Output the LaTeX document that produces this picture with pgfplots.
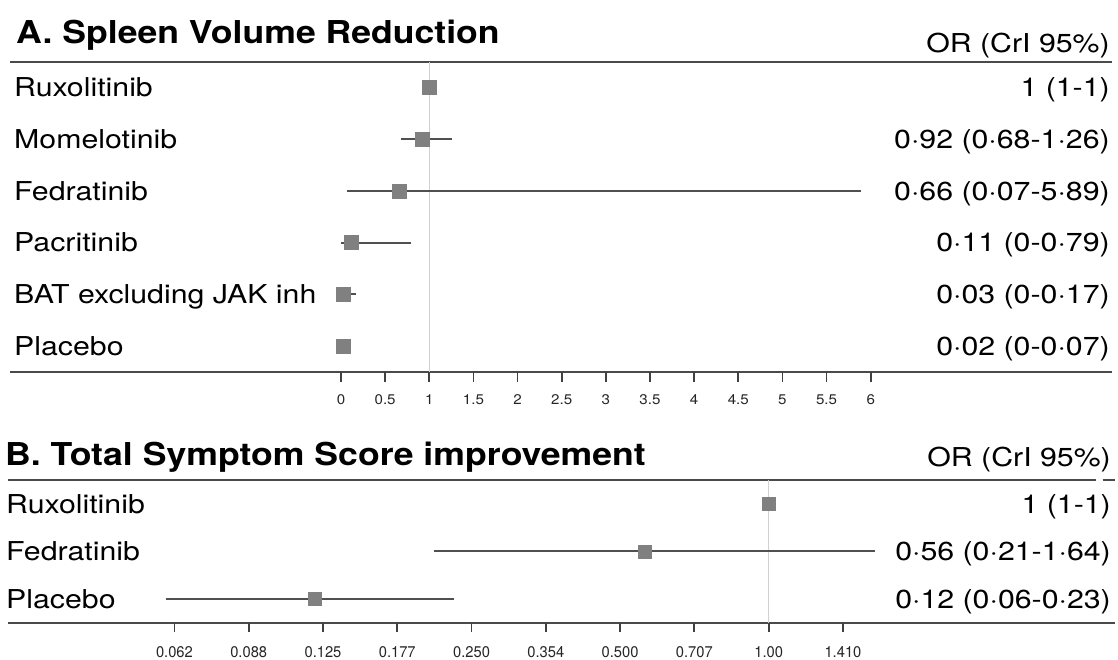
\documentclass[border=0pt]{standalone}
\usepackage{pgfplots}
\pgfplotsset{compat=1.18}
\usepackage{fontspec}
\setmainfont{TeX Gyre Heros}
\usepackage{graphicx}
\definecolor{axisgray}{HTML}{4A4A4A}
\definecolor{cigray}{HTML}{505050}
\definecolor{sqgray}{HTML}{808080}
\definecolor{refgray}{HTML}{D2D2D2}
\newcommand{\rowfont}[1]{\scalebox{1.165}[1]{\fontsize{26}{30}\selectfont #1}}
\newcommand{\titlefont}[1]{\scalebox{1.13}[1]{\fontsize{31.5}{36}\selectfont\bfseries #1}}
\newcommand{\tf}[1]{\scalebox{1.08}[1]{\fontsize{14}{16}\selectfont #1}}
\newcommand{\tfb}[1]{\scalebox{0.95}[1]{\fontsize{15.5}{18}\selectfont #1}}
\pgfplotsset{
  forest/.style={
    scale only axis, clip=false, anchor=south west, hide axis,
  },
  ci/.style={draw=cigray, line width=2pt, mark=none},
  sq/.style={only marks, mark=square*, mark options={fill=sqgray, draw=sqgray}},
  ref/.style={draw=refgray, line width=1.4pt, mark=none},
  rule/.style={draw=axisgray, line width=2.2pt, mark=none},
  tickbars/.style={draw=none, mark=none, forget plot,
    error bars/.cd, y dir=minus, y explicit, error mark=none,
    error bar style={draw=black!75, line width=1.8pt}},
}
\tikzset{
  lab/.style={anchor=base west, inner sep=0, yshift=-9.3pt},
  val/.style={anchor=base east, inner sep=0, yshift=-9.3pt},
  tla/.style={anchor=center, inner sep=0, yshift=-28.3pt, text=black!85},
  tlb/.style={anchor=center, inner sep=0, yshift=-29pt, text=black!85},
}
\begin{document}
\begin{tikzpicture}
\path[use as bounding box] (0,0) rectangle (1118pt,659pt);
% ---------------- Panel A ----------------
\begin{axis}[forest,
  at={(10pt,276.97pt)}, width=1102pt, height=320.33pt,
  xmin=-3.749, xmax=8.732, ymin=0.3, ymax=6.5,
]
\addplot[rule] coordinates {(-3.749,6.5) (8.732,6.5)};
\addplot[rule] coordinates {(-3.749,0.5) (8.732,0.5)};
\addplot[tickbars] coordinates {(0,0.5) -= (0,0.19) (0.5,0.5) -= (0,0.19) (1,0.5) -= (0,0.19) (1.5,0.5) -= (0,0.19) (2,0.5) -= (0,0.19) (2.5,0.5) -= (0,0.19) (3,0.5) -= (0,0.19) (3.5,0.5) -= (0,0.19) (4,0.5) -= (0,0.19) (4.5,0.5) -= (0,0.19) (5,0.5) -= (0,0.19) (5.5,0.5) -= (0,0.19) (6,0.5) -= (0,0.19)};
\addplot[ref] coordinates {(1,0.5) (1,6.5)};
\addplot[ci] coordinates {(0.68,5) (1.26,5)};
\addplot[ci] coordinates {(0.07,4) (5.89,4)};
\addplot[ci] coordinates {(0,3) (0.79,3)};
\addplot[ci] coordinates {(0,2) (0.17,2)};
\addplot[ci] coordinates {(0,1) (0.07,1)};
\addplot[sq, mark size=7pt] coordinates {(1,6) (0.92,5) (0.66,4) (0.11,3) (0.03,2) (0.02,1)};
\node[tla] at (axis cs:0,0.5) {\tf{0}};
\node[tla] at (axis cs:0.5,0.5) {\tf{0.5}};
\node[tla] at (axis cs:1,0.5) {\tf{1}};
\node[tla] at (axis cs:1.5,0.5) {\tf{1.5}};
\node[tla] at (axis cs:2,0.5) {\tf{2}};
\node[tla] at (axis cs:2.5,0.5) {\tf{2.5}};
\node[tla] at (axis cs:3,0.5) {\tf{3}};
\node[tla] at (axis cs:3.5,0.5) {\tf{3.5}};
\node[tla] at (axis cs:4,0.5) {\tf{4}};
\node[tla] at (axis cs:4.5,0.5) {\tf{4.5}};
\node[tla] at (axis cs:5,0.5) {\tf{5}};
\node[tla] at (axis cs:5.5,0.5) {\tf{5.5}};
\node[tla] at (axis cs:6,0.5) {\tf{6}};
\node[anchor=base west, inner sep=0, xshift=6pt, yshift=18.4pt] at (axis cs:-3.749,6.5) {\titlefont{A. Spleen Volume Reduction}};
\node[anchor=base east, inner sep=0, xshift=-2pt, yshift=9pt] at (axis cs:8.732,6.5) {\rowfont{OR (CrI 95\%)}};
\node[lab, xshift=4pt] at (axis cs:-3.749,6) {\rowfont{Ruxolitinib}};
\node[lab, xshift=4pt] at (axis cs:-3.749,5) {\rowfont{Momelotinib}};
\node[lab, xshift=4pt] at (axis cs:-3.749,4) {\rowfont{Fedratinib}};
\node[lab, xshift=4pt] at (axis cs:-3.749,3) {\rowfont{Pacritinib}};
\node[lab, xshift=4pt] at (axis cs:-3.749,2) {\rowfont{BAT excluding JAK inh}};
\node[lab, xshift=4pt] at (axis cs:-3.749,1) {\rowfont{Placebo}};
\node[val, xshift=-2pt] at (axis cs:8.732,6) {\rowfont{1 (1-1)}};
\node[val, xshift=-2pt] at (axis cs:8.732,5) {\rowfont{0·92 (0·68-1·26)}};
\node[val, xshift=-2pt] at (axis cs:8.732,4) {\rowfont{0·66 (0·07-5·89)}};
\node[val, xshift=-2pt] at (axis cs:8.732,3) {\rowfont{0·11 (0-0·79)}};
\node[val, xshift=-2pt] at (axis cs:8.732,2) {\rowfont{0·03 (0-0·17)}};
\node[val, xshift=-2pt] at (axis cs:8.732,1) {\rowfont{0·02 (0-0·07)}};
\end{axis}
% ---------------- Panel B ----------------
\begin{axis}[forest,
  at={(8pt,26.79pt)}, width=1107pt, height=152.21pt,
  xmode=log, log basis x=2,
  xmin=0.02875, xmax=5.032, ymin=0.3, ymax=3.5,
]
\addplot[rule] coordinates {(0.02875,3.5) (4.6,3.5)};
\addplot[rule] coordinates {(4.75,3.5) (5.032,3.5)};
\addplot[rule] coordinates {(0.02875,0.5) (5.032,0.5)};
\addplot[tickbars] coordinates {(0.0625,0.5) -= (0,0.2) (0.0883883,0.5) -= (0,0.2) (0.125,0.5) -= (0,0.2) (0.1767767,0.5) -= (0,0.2) (0.25,0.5) -= (0,0.2) (0.3535534,0.5) -= (0,0.2) (0.5,0.5) -= (0,0.2) (0.7071068,0.5) -= (0,0.2) (1,0.5) -= (0,0.2) (1.4142136,0.5) -= (0,0.2)};
\addplot[ref] coordinates {(1,0.5) (1,3.5)};
\addplot[ci] coordinates {(0.21,2) (1.64,2)};
\addplot[ci] coordinates {(0.06,1) (0.23,1)};
\addplot[sq, mark size=6.5pt] coordinates {(1,3) (0.56,2) (0.12,1)};
\node[tlb] at (axis cs:0.0625,0.5) {\tfb{0.062}};
\node[tlb] at (axis cs:0.0883883,0.5) {\tfb{0.088}};
\node[tlb] at (axis cs:0.125,0.5) {\tfb{0.125}};
\node[tlb] at (axis cs:0.1767767,0.5) {\tfb{0.177}};
\node[tlb] at (axis cs:0.25,0.5) {\tfb{0.250}};
\node[tlb] at (axis cs:0.3535534,0.5) {\tfb{0.354}};
\node[tlb] at (axis cs:0.5,0.5) {\tfb{0.500}};
\node[tlb] at (axis cs:0.7071068,0.5) {\tfb{0.707}};
\node[tlb] at (axis cs:1,0.5) {\tfb{1.00}};
\node[tlb] at (axis cs:1.4142136,0.5) {\tfb{1.410}};
\node[anchor=base west, inner sep=0, xshift=-3pt, yshift=15pt] at (axis cs:0.02875,3.5) {\titlefont{B. Total Symptom Score improvement}};
\node[anchor=base east, inner sep=0, xshift=-4pt, yshift=13.3pt] at (axis cs:5.032,3.5) {\rowfont{OR (CrI 95\%)}};
\node[lab, xshift=-2pt] at (axis cs:0.02875,3) {\rowfont{Ruxolitinib}};
\node[lab, xshift=-2pt] at (axis cs:0.02875,2) {\rowfont{Fedratinib}};
\node[lab, xshift=-2pt] at (axis cs:0.02875,1) {\rowfont{Placebo}};
\node[val, xshift=-4pt] at (axis cs:5.032,3) {\rowfont{1 (1-1)}};
\node[val, xshift=-4pt] at (axis cs:5.032,2) {\rowfont{0·56 (0·21-1·64)}};
\node[val, xshift=-4pt] at (axis cs:5.032,1) {\rowfont{0·12 (0·06-0·23)}};
\end{axis}
\end{tikzpicture}
\end{document}
